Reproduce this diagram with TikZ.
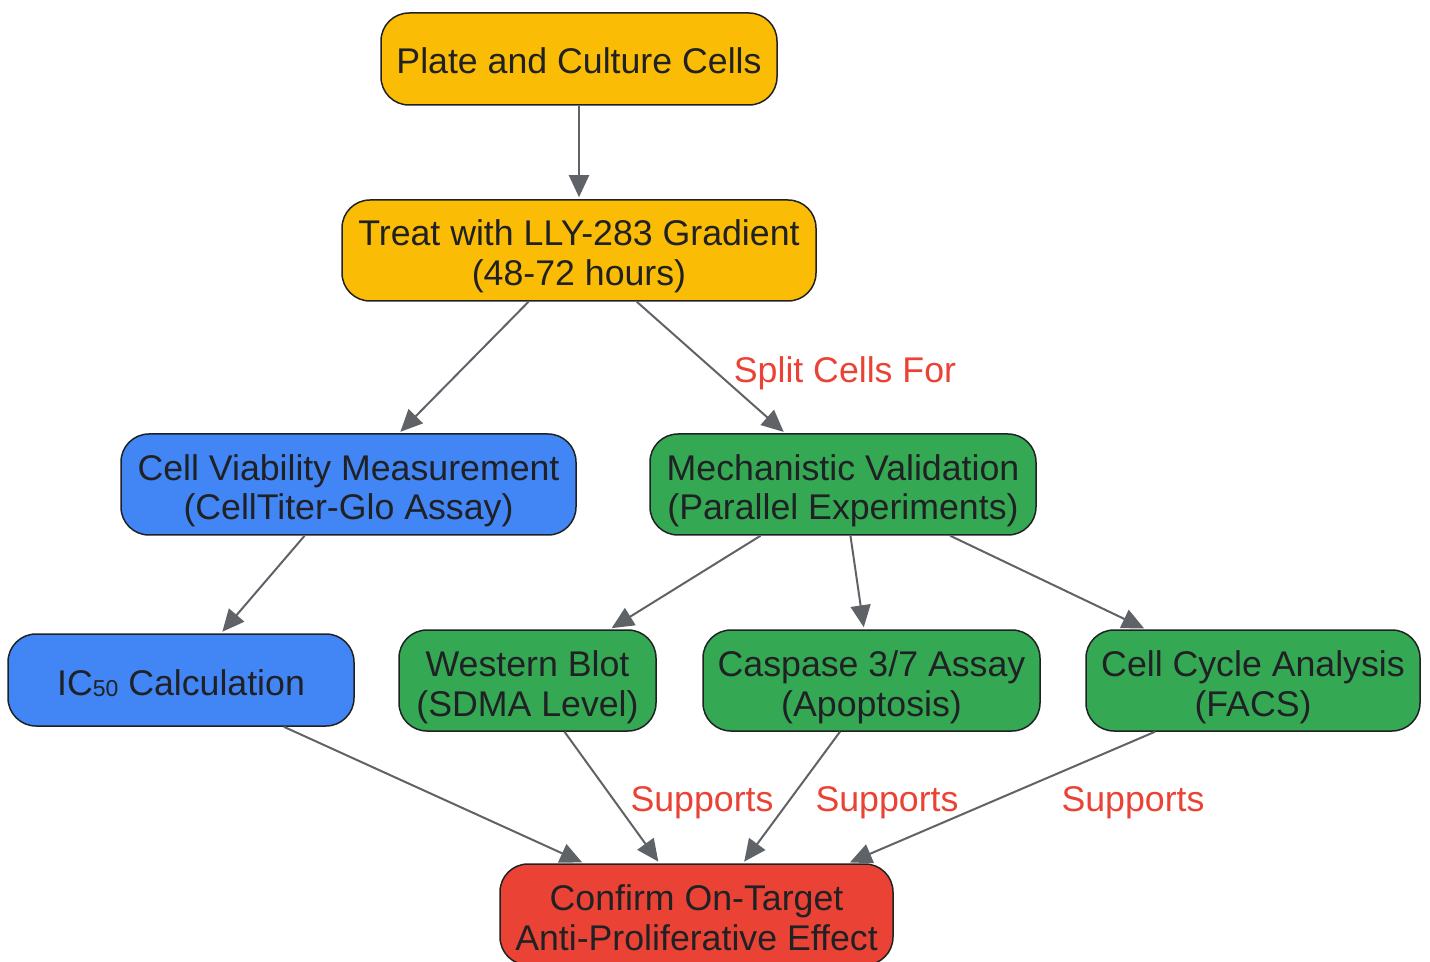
\documentclass[tikz,border=0pt]{standalone}
\usepackage{fontspec}
\setmainfont{Liberation Sans}
\usetikzlibrary{arrows.meta}
\definecolor{cyellow}{HTML}{FBBC05}
\definecolor{cblue}{HTML}{4285F4}
\definecolor{cgreen}{HTML}{34A853}
\definecolor{cred}{HTML}{EA4335}
\definecolor{ctext}{HTML}{202124}
\definecolor{cedge}{HTML}{5F6368}
\newcommand{\twoline}[2]{\rule{0pt}{20.5pt}#1\\#2\rule[-5pt]{0pt}{5pt}}
\newcommand{\oneline}[1]{\rule[-5pt]{0pt}{25pt}#1}
\begin{document}
\begin{tikzpicture}[x=0.5pt,y=-0.5pt,
  box/.style={draw=ctext,line width=0.75pt,rounded corners=14pt,inner sep=0pt,align=center,
    text=ctext,font=\fontsize{17.85}{20}\selectfont},
  yel/.style={box,fill=cyellow},
  blu/.style={box,fill=cblue},
  grn/.style={box,fill=cgreen},
  rd/.style={box,fill=cred},
  conn/.style={draw=cedge,line width=1pt,-{Triangle[length=11pt,width=10pt]},shorten >=1pt},
  lbl/.style={text=cred,font=\fontsize{17.85}{20}\selectfont,inner sep=0pt}]
\useasboundingbox (0,0) rectangle (1430,962);
\node[yel,minimum width=198pt,minimum height=46pt] (plate) at (579,59) {\oneline{Plate and Culture Cells}};
\node[yel,minimum width=237pt,minimum height=50.5pt] (treat) at (579,250.5) {\twoline{Treat with LLY-283 Gradient}{(48-72 hours)}};
\node[blu,minimum width=227.5pt,minimum height=50.5pt] (via) at (348.5,484.5) {\twoline{Cell Viability Measurement}{(CellTiter-Glo Assay)}};
\node[grn,minimum width=193pt,minimum height=50.5pt] (mech) at (843,484.5) {\twoline{Mechanistic Validation}{(Parallel Experiments)}};
\node[blu,minimum width=173pt,minimum height=46pt] (ic) at (181,680) {\oneline{IC{\fontsize{11.5}{12}\selectfont\raisebox{-0.6pt}{50}} Calculation}};
\node[grn,minimum width=128.5pt,minimum height=50.5pt] (wb) at (527.5,680.5) {\twoline{Western Blot}{(SDMA Level)}};
\node[grn,minimum width=168.5pt,minimum height=50.5pt] (cas) at (871.5,680.5) {\twoline{Caspase 3/7 Assay}{(Apoptosis)}};
\node[grn,minimum width=167pt,minimum height=50.5pt] (cc) at (1253,680.5) {\twoline{Cell Cycle Analysis}{(FACS)}};
\node[rd,minimum width=196.5pt,minimum height=50.5pt] (conf) at (696.5,914.5) {\twoline{Confirm On-Target}{Anti-Proliferative Effect}};
\draw[conn] (plate) -- (treat);
\draw[conn] (treat) -- (via);
\draw[conn] (treat) -- (mech);
\draw[conn] (via) -- (ic);
\draw[conn] (mech) -- (wb);
\draw[conn] (mech) -- (cas);
\draw[conn] (mech) -- (cc);
\draw[conn] (ic) -- (conf);
\draw[conn] (wb) -- (conf);
\draw[conn] ([xshift=-15.75pt]cas.south) -- ([xshift=23.25pt]conf.north);
\draw[conn] ([xshift=-49pt]cc.south) -- ([xshift=75.75pt]conf.north);
\node[lbl] (l1) at (845,373) {Split Cells For};
\node[lbl] (l2) at (702,803) {Supports};
\node[lbl] (l3) at (887,803) {Supports};
\node[lbl] (l4) at (1133,803) {Supports};
\end{tikzpicture}
\end{document}
